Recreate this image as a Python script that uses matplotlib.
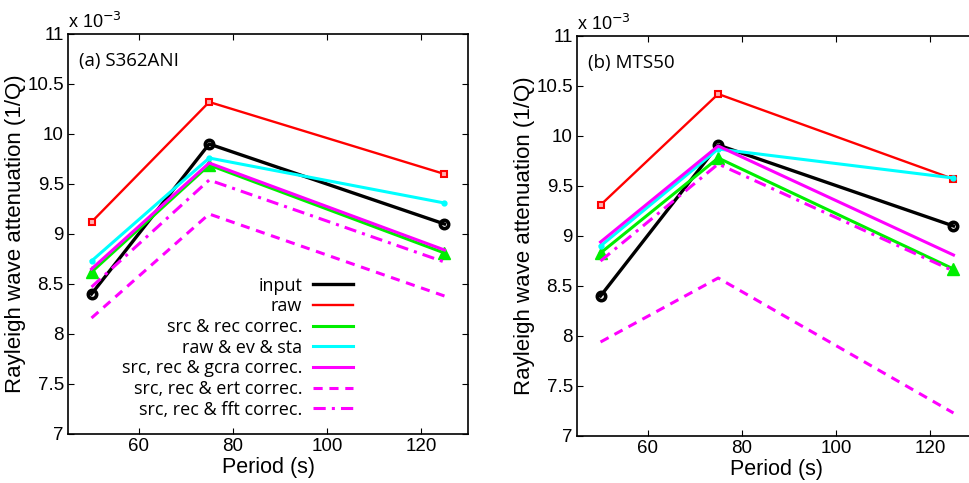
import matplotlib
matplotlib.use("Agg")
import matplotlib.pyplot as plt
from matplotlib.lines import Line2D

# 週期 (s)
periods = [50, 75, 125]

# 衰減值 (x 10^-3)，左圖 S362ANI
a_input = [8.40, 9.90, 9.10]
a_raw = [9.12, 10.32, 9.60]
a_srcrec = [8.62, 9.69, 8.81]
a_evsta = [8.73, 9.76, 9.31]
a_gcra = [8.65, 9.71, 8.84]
a_ert = [8.16, 9.20, 8.38]
a_fft = [8.47, 9.54, 8.72]

# 右圖 MTS50
b_input = [8.40, 9.91, 9.10]
b_raw = [9.31, 10.42, 9.57]
b_srcrec = [8.83, 9.78, 8.67]
b_evsta = [8.90, 9.87, 9.58]
b_gcra = [8.94, 9.90, 8.81]
b_ert = [7.94, 8.58, 7.23]
b_fft = [8.75, 9.72, 8.65]

labels = ["input", "raw", "src & rec correc.", "raw & ev & sta",
          "src, rec & gcra correc.", "src, rec & ert correc.",
          "src, rec & fft correc."]
panel_titles = ["(a) S362ANI", "(b) MTS50"]
yticks = [7, 7.5, 8, 8.5, 9, 9.5, 10, 10.5, 11]
xticks = [60, 80, 100, 120]

plt.rcParams['font.family'] = ['Open Sans', 'DejaVu Sans']

# 每條線的樣式
styles = [
    dict(color="black", lw=2.4, ls="-", marker="o", ms=6, mfc="none", mew=2.6),
    dict(color="red", lw=1.7, ls="-", marker="s", ms=5, mfc="#ffb0b0", mew=1.5),
    dict(color="#00ee00", lw=2.2, ls="-", marker="^", ms=8, mfc="#00ee00", mew=1),
    dict(color="cyan", lw=2.2, ls="-", marker="o", ms=3.5, mfc="cyan", mew=1),
    dict(color="magenta", lw=2.2, ls="-", marker=None),
    dict(color="magenta", lw=2.2, ls=(0, (3, 2.2)), marker=None),
    dict(color="magenta", lw=2.2, ls=(0, (4, 2, 1, 2)), marker=None),
]

fig = plt.figure(figsize=(9.69, 4.83), dpi=100)
ax1 = fig.add_axes([68/969, 49/483, 400/969, 400/483])
ax2 = fig.add_axes([577/969, 47/483, 400/969, 400/483])

datasets = [
    [a_input, a_raw, a_srcrec, a_evsta, a_gcra, a_ert, a_fft],
    [b_input, b_raw, b_srcrec, b_evsta, b_gcra, b_ert, b_fft],
]

for ax, data, title in zip([ax1, ax2], datasets, panel_titles):
    for vals, st in zip(data, styles):
        ax.plot(periods, vals, **st, clip_on=False)
    ax.set_xlim(45, 130)
    ax.set_ylim(7, 11)
    ax.set_xticks(xticks)
    ax.set_yticks(yticks)
    ax.set_yticklabels([f"{t:g}" for t in yticks])
    ax.tick_params(direction="in", top=True, right=True, length=4,
                   width=0.8, labelsize=13.5, pad=3)
    for lab in ax.get_xticklabels() + ax.get_yticklabels():
        lab.set_family("Liberation Sans")
    for sp in ax.spines.values():
        sp.set_linewidth(1.2)
    ax.set_xlabel("Period (s)", fontsize=15.5, labelpad=1,
                  family="Liberation Sans")
    ax.set_ylabel("Rayleigh wave attenuation (1/Q)", fontsize=16, labelpad=1,
                  family="Liberation Sans")
    ax.text(0.0, 1.005, r"x 10$^{-3}$", transform=ax.transAxes,
            fontsize=13, va="bottom", ha="left", family="Liberation Sans")
    ax.text(0.028, 0.955, title, transform=ax.transAxes, fontsize=13.5,
            va="top", ha="left")

# 圖例 (只有線，沒有標記)
handles = [Line2D([0], [0], color=st["color"], lw=st["lw"], ls=st["ls"])
           for st in styles]
ax1.legend(handles, labels, loc="lower right", bbox_to_anchor=(0.73, 0.02),
           frameon=False, markerfirst=False, fontsize=13, handlelength=2.2,
           handletextpad=0.6, labelspacing=0.15, borderaxespad=0)

fig.savefig("out.png", dpi=100)
